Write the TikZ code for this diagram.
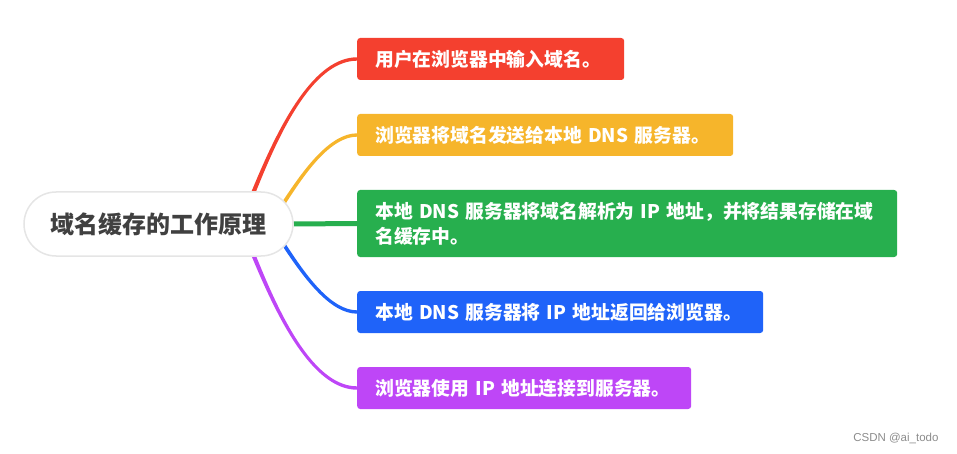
\documentclass[tikz,border=0pt]{standalone}
\usepackage{fontspec}
\setmainfont{Noto Sans CJK SC}
\newfontfamily\markfont{Liberation Sans}
\usetikzlibrary{backgrounds}
\definecolor{redbr}{HTML}{F4402F}
\definecolor{orangebr}{HTML}{F6B52B}
\definecolor{greenbr}{HTML}{27AF4E}
\definecolor{bluebr}{HTML}{1F63F9}
\definecolor{purplebr}{HTML}{BE46F7}
\tikzstyle{root} = [rounded corners = 32pt, draw = black!10, line width = 1.5pt, fill = white, minimum width = 269pt, minimum height = 64pt, text = black!75, font = \bfseries\fontsize{24}{28}\selectfont]
\tikzstyle{topic} = [anchor = west, rounded corners = 3pt, inner xsep = 18pt, inner ysep = 0pt, minimum height = 42pt, text = white, align = left, font = \bfseries\fontsize{18.8}{25}\selectfont]
% tapered branch: colour, x offset from root centre, target node, out angle, side
\newcommand{\mmbranch}[5]{%
  \fill [#1] ([xshift = #2pt - 3pt]root.center) to[out = #4, in = 180] ([yshift = {(#5)*1.7pt}]#3.west)
    -- ([yshift = {-(#5)*1.7pt}]#3.west) to[out = 180, in = #4] ([xshift = #2pt + 3pt]root.center) -- cycle;}

\begin{document}
\begin{tikzpicture}[x = 1pt, y = -1pt]
        \useasboundingbox (0, 0) rectangle (957, 454);
        \node (root) at (158.5, 224) [root] {域名缓存的工作原理};

        \node (input) at (357, 59) [topic, fill = redbr, text width = 231pt] {\mbox{用户在浏览器中输入域名。}};
        \node (send) at (357, 135) [topic, fill = orangebr, text width = 340pt] {\mbox{浏览器将域名发送给本地 DNS 服务器。}};
        \node (resolve) at (357, 223.5) [topic, fill = greenbr, text width = 504pt, minimum height = 67pt] {\mbox{本地 DNS 服务器将域名解析为 IP 地址，并将结果存储在域}\\名缓存中。};
        \node (reply) at (357, 312) [topic, fill = bluebr, text width = 370pt] {\mbox{本地 DNS 服务器将 IP 地址返回给浏览器。}};
        \node (connect) at (357, 388) [topic, fill = purplebr, text width = 298pt] {\mbox{浏览器使用 IP 地址连接到服务器。}};

        \node (mark) at (942, 438) [anchor = east, text = black!45, font = \markfont\fontsize{11.5}{13}\selectfont] {CSDN @ai\_todo};

        \begin{scope}[on background layer]
            \mmbranch{redbr}{69.5}{input}{-90}{1}
            \mmbranch{orangebr}{96.5}{send}{-90}{1}
            \draw [greenbr, line width = 5pt] (root.east) -- (resolve.west);
            \mmbranch{bluebr}{96.5}{reply}{90}{-1}
            \mmbranch{purplebr}{69.5}{connect}{90}{-1}
        \end{scope}
    \end{tikzpicture}
\end{document}
